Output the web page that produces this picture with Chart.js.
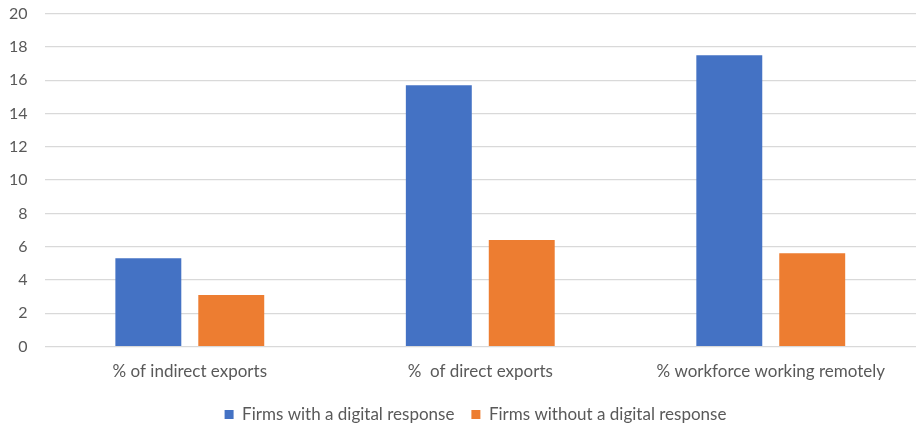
<!DOCTYPE html>
<html>
<head>
<meta charset="utf-8">
<script src="https://cdn.jsdelivr.net/npm/chart.js@4.4.1/dist/chart.umd.min.js"></script>
<style>
html,body{margin:0;padding:0;background:#fff;}
#wrap{width:916px;height:426px;}
</style>
</head>
<body>
<div id="wrap"><canvas id="c" width="916" height="426"></canvas></div>
<script>
const categories = ["% of indirect exports", "%  of direct exports", "% workforce working remotely"];
const seriesNames = ["Firms with a digital response", "Firms without a digital response"];
const withDigital = [5.3, 15.7, 17.5];
const withoutDigital = [3.1, 6.4, 5.6];
const yTicks = [0, 2, 4, 6, 8, 10, 12, 14, 16, 18, 20];

const FONT = "Lato, 'Open Sans', sans-serif";
const GRAY = "#595959";

const legendShift = {
  id: 'legendShift',
  afterLayout(chart) {
    if (chart.legend) {
      chart.legend.left += 30;
      chart.legend.right += 0;
    }
  }
};

new Chart(document.getElementById('c'), {
  type: 'bar',
  data: {
    labels: categories,
    datasets: [
      { label: seriesNames[0], data: withDigital, backgroundColor: '#4472C4', categoryPercentage: 0.571, barPercentage: 0.795 },
      { label: seriesNames[1], data: withoutDigital, backgroundColor: '#ED7D31', categoryPercentage: 0.571, barPercentage: 0.795 }
    ]
  },
  plugins: [legendShift],
  options: {
    responsive: false,
    animation: false,
    devicePixelRatio: 1,
    layout: { padding: { top: 0, left: 5, right: 0, bottom: -7 } },
    plugins: {
      tooltip: { enabled: false },
      legend: {
        position: 'bottom',
        labels: {
          boxWidth: 9, boxHeight: 9,
          color: GRAY,
          padding: 17,
          font: { family: FONT, size: 17 }
        }
      }
    },
    scales: {
      x: {
        grid: { display: false },
        border: { display: false },
        ticks: { color: GRAY, font: { family: FONT, size: 17 }, padding: 7, maxRotation: 0 }
      },
      y: {
        min: 0, max: 20,
        afterBuildTicks: (axis) => { axis.ticks = yTicks.map(v => ({ value: v })); },
        grid: { color: '#d9d9d9', lineWidth: 1.3, drawTicks: true, tickLength: 13, tickColor: 'rgba(0,0,0,0)' },
        border: { display: false },
        ticks: { color: GRAY, font: { family: FONT, size: 16 }, padding: 4 }
      }
    }
  }
});
</script>
</body>
</html>
